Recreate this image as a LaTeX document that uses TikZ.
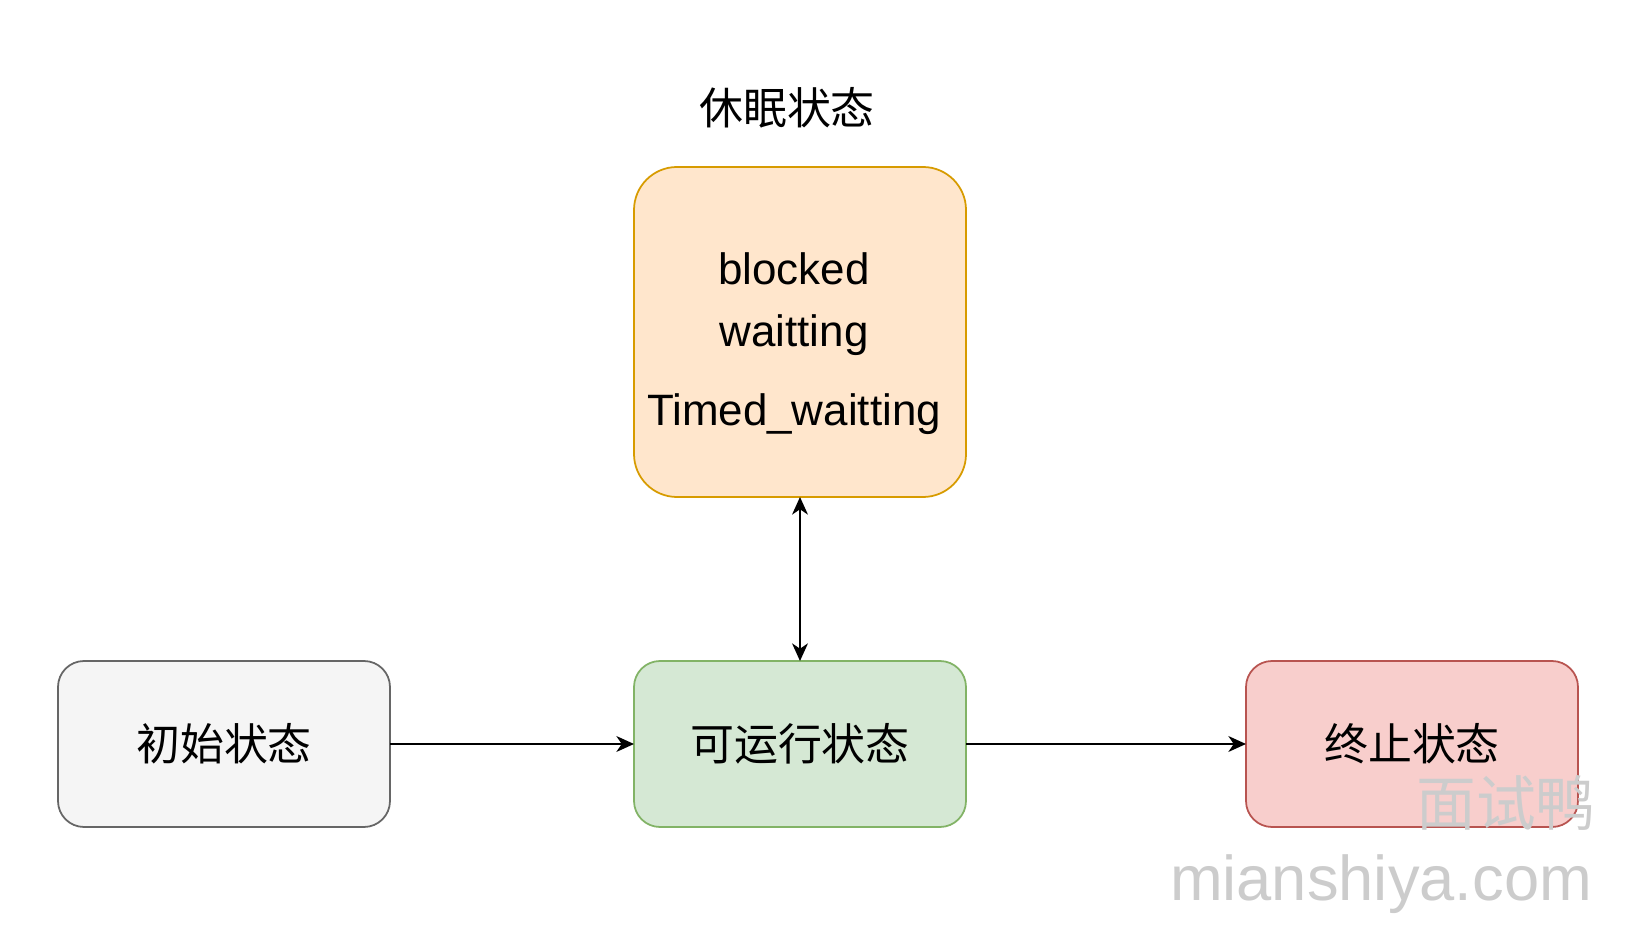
\documentclass[tikz,border=0pt]{standalone}
\usepackage{fontspec}
\setmainfont{Liberation Sans}
\newfontfamily\cjk{Noto Sans CJK SC}
\usepackage{tikz}
\usetikzlibrary{shapes,arrows,arrows.meta,calc,positioning}
\definecolor{grayfill}{HTML}{F5F5F5}
\definecolor{graydraw}{HTML}{666666}
\definecolor{greenfill}{HTML}{D5E8D4}
\definecolor{greendraw}{HTML}{82B366}
\definecolor{redfill}{HTML}{F8CECC}
\definecolor{reddraw}{HTML}{B85450}
\definecolor{orangefill}{HTML}{FFE6CC}
\definecolor{orangedraw}{HTML}{D79B00}
\tikzstyle{arrow} = [line width=1.1pt, ->, >={Stealth[length=10pt,width=9pt,inset=3pt]}]
\tikzstyle{state} = [rectangle, rounded corners=0.52cm, line width=1pt, minimum width=6.64cm, minimum height=3.32cm, inner sep=0pt, outer sep=0pt, font=\cjk\fontsize{25}{30}\selectfont]

\begin{document}
\begin{tikzpicture}
\useasboundingbox (0,0) rectangle (32.64,18.64);
 \node[state, draw=greendraw, fill=greenfill] (run) at (16,3.76) {可运行状态};
 \node[state, draw=graydraw, fill=grayfill, left=4.88cm of run] (init) {初始状态};
 \node[state, draw=reddraw, fill=redfill, right=5.6cm of run] (term) {终止状态};
 \node[state, draw=orangedraw, fill=orangefill, rounded corners=0.86cm,
       minimum height=6.6cm, above=3.28cm of run] (sleep) {};
 \node[align=center, font=\fontsize{25}{35}\selectfont] (sleeptext)
       at ([xshift=-0.12cm, yshift=-0.23cm] sleep.center)
       {blocked\\waitting\\[10pt]Timed\_waitting};
 \node[font=\cjk\fontsize{25}{30}\selectfont] (title) at (15.74,16.48) {休眠状态};

 \draw[arrow] (init) -- (run);
 \draw[arrow] (run) -- (term);
 \draw[arrow, <->] (sleep) -- (run);

% watermark
 \node[text=gray!40, font=\cjk\fontsize{34}{40}\selectfont] (wmcn) at (30.12,2.58) {面试鸭};
 \node[text=gray!40, font=\fontsize{36}{40}\selectfont] (wmen) at (27.62,0.95) {mianshiya.com};
\end{tikzpicture}
\end{document}
